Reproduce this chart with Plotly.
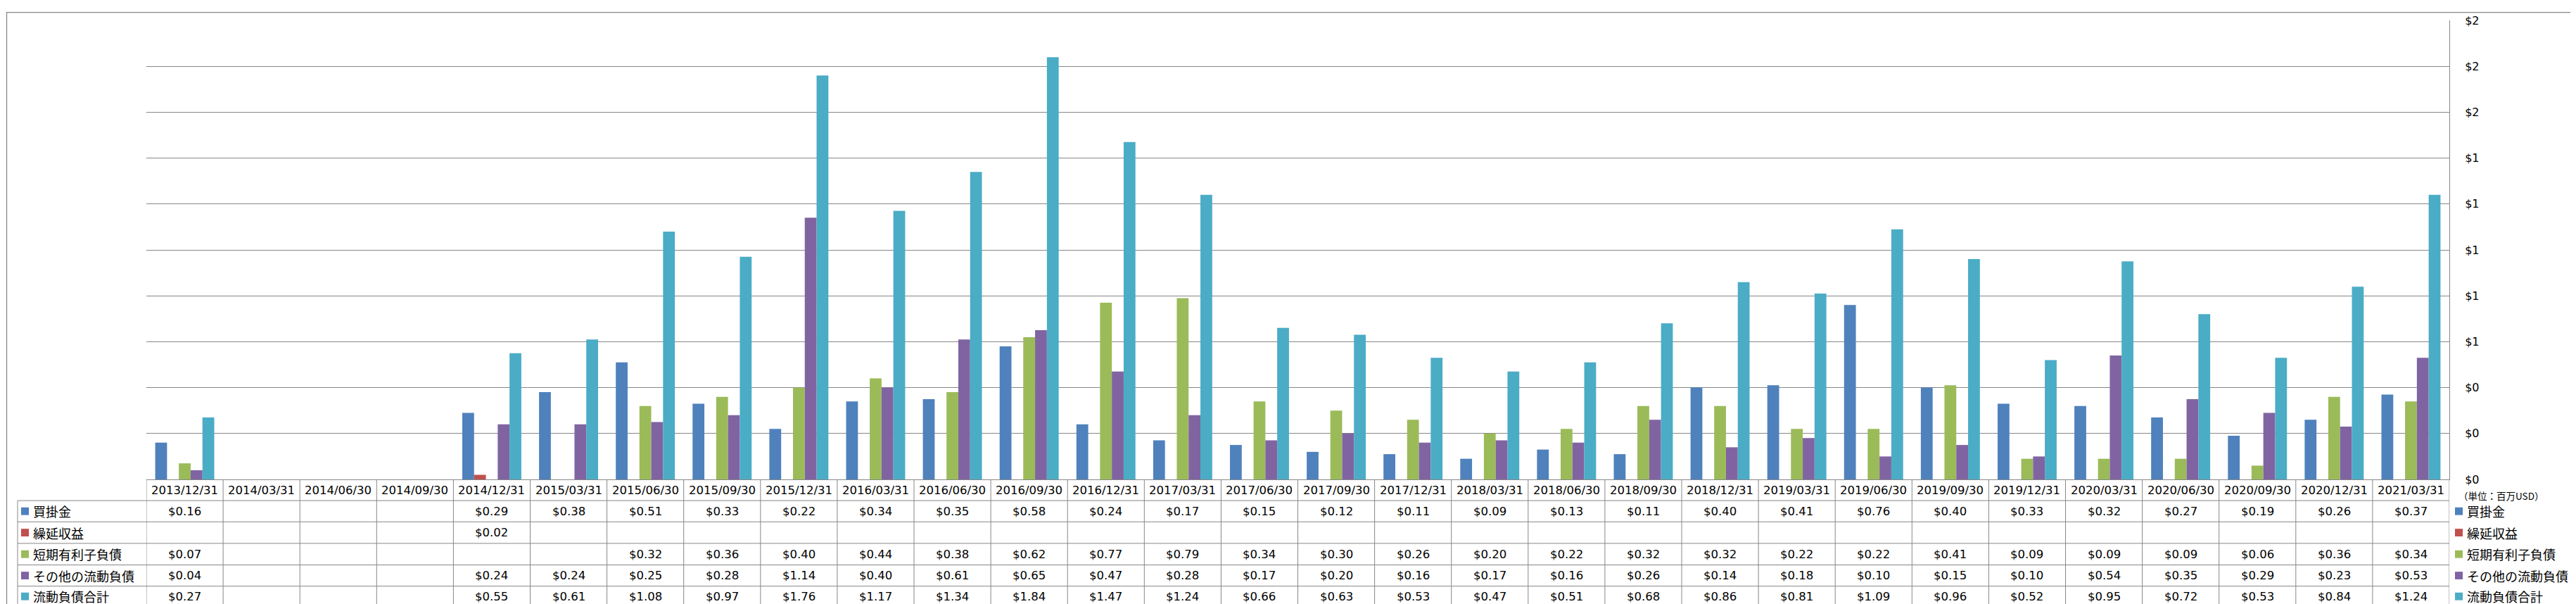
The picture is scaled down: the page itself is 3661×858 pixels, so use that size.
import plotly.graph_objects as go

# ---------------- data ----------------
categories = [
    "2013/12/31", "2014/03/31", "2014/06/30", "2014/09/30", "2014/12/31",
    "2015/03/31", "2015/06/30", "2015/09/30", "2015/12/31", "2016/03/31",
    "2016/06/30", "2016/09/30", "2016/12/31", "2017/03/31", "2017/06/30",
    "2017/09/30", "2017/12/31", "2018/03/31", "2018/06/30", "2018/09/30",
    "2018/12/31", "2019/03/31", "2019/06/30", "2019/09/30", "2019/12/31",
    "2020/03/31", "2020/06/30", "2020/09/30", "2020/12/31", "2021/03/31",
]
accounts_payable = [0.16, None, None, None, 0.29, 0.38, 0.51, 0.33, 0.22, 0.34,
                    0.35, 0.58, 0.24, 0.17, 0.15, 0.12, 0.11, 0.09, 0.13, 0.11,
                    0.40, 0.41, 0.76, 0.40, 0.33, 0.32, 0.27, 0.19, 0.26, 0.37]
deferred_revenue = [None, None, None, None, 0.02, None, None, None, None, None,
                    None, None, None, None, None, None, None, None, None, None,
                    None, None, None, None, None, None, None, None, None, None]
short_term_debt = [0.07, None, None, None, None, None, 0.32, 0.36, 0.40, 0.44,
                   0.38, 0.62, 0.77, 0.79, 0.34, 0.30, 0.26, 0.20, 0.22, 0.32,
                   0.32, 0.22, 0.22, 0.41, 0.09, 0.09, 0.09, 0.06, 0.36, 0.34]
other_current = [0.04, None, None, None, 0.24, 0.24, 0.25, 0.28, 1.14, 0.40,
                 0.61, 0.65, 0.47, 0.28, 0.17, 0.20, 0.16, 0.17, 0.16, 0.26,
                 0.14, 0.18, 0.10, 0.15, 0.10, 0.54, 0.35, 0.29, 0.23, 0.53]
total_current = [0.27, None, None, None, 0.55, 0.61, 1.08, 0.97, 1.76, 1.17,
                 1.34, 1.84, 1.47, 1.24, 0.66, 0.63, 0.53, 0.47, 0.51, 0.68,
                 0.86, 0.81, 1.09, 0.96, 0.52, 0.95, 0.72, 0.53, 0.84, 1.24]

series_names = ["買掛金", "繰延収益", "短期有利子負債", "その他の流動負債", "流動負債合計"]
series_values = [accounts_payable, deferred_revenue, short_term_debt, other_current, total_current]
series_colors = ["#4F81BD", "#C0504D", "#9BBB59", "#8064A2", "#4BACC6"]
unit_label = "（単位：百万USD）"
y_min, y_max, y_step = 0, 2.0, 0.2

# ---------------- layout geometry ----------------
W, H = 3661, 858
L, R, T, B = 200, 3473, 13, 673
GRID = "#878787"
NUM_FONT = dict(family="DejaVu Sans, Verdana, sans-serif", size=16.5, color="#000000")
JP_FONT = dict(family="Noto Sans CJK JP, sans-serif", size=18, color="#000000")


def pxx(x):
    return (x - L) / (R - L)


def pxy(y):
    return (B - y) / (B - T)


fig = go.Figure()
for name, vals, col in zip(series_names, series_values, series_colors):
    fig.add_trace(go.Bar(x=categories, y=vals, name=name, marker_color=col,
                         marker_line_width=0))

n = len(categories)
row_edges = [673, 703.5, 734, 765, 796, 826.5, 856]
table_left = 17
shapes = []
annotations = []

# vertical table lines at category boundaries
for i in range(n + 1):
    shapes.append(dict(type="line", xref="x", yref="paper", x0=i - 0.5, x1=i - 0.5,
                       y0=pxy(row_edges[0]), y1=pxy(row_edges[-1]),
                       line=dict(color=GRID, width=1)))
# legend column left edge
shapes.append(dict(type="line", xref="paper", yref="paper", x0=pxx(table_left), x1=pxx(table_left),
                   y0=pxy(row_edges[1]), y1=pxy(row_edges[-1]), line=dict(color=GRID, width=1)))
# horizontal row lines
for y in row_edges[1:]:
    shapes.append(dict(type="line", xref="paper", yref="paper", x0=pxx(table_left), x1=1,
                       y0=pxy(y), y1=pxy(y), line=dict(color=GRID, width=1)))
# outer frame
shapes.append(dict(type="rect", xref="paper", yref="paper", x0=pxx(1.5), x1=pxx(3656.5),
                   y0=pxy(856.5), y1=pxy(1.5), line=dict(color=GRID, width=1.3)))

# header labels
hdr_y = pxy((row_edges[0] + row_edges[1]) / 2)
for i, c in enumerate(categories):
    annotations.append(dict(x=c, y=hdr_y, xref="x", yref="paper", text=c, showarrow=False,
                            xanchor="center", yanchor="middle", font=NUM_FONT))

# values and legends
for r, (name, vals, col) in enumerate(zip(series_names, series_values, series_colors)):
    yc = (row_edges[r + 1] + row_edges[r + 2]) / 2
    for i, v in enumerate(vals):
        if v is None:
            continue
        annotations.append(dict(x=categories[i], y=pxy(yc), xref="x", yref="paper",
                                text=f"${v:.2f}", showarrow=False, xanchor="center",
                                yanchor="middle", font=NUM_FONT))
    # left legend key
    shapes.append(dict(type="rect", xref="paper", yref="paper", x0=pxx(22), x1=pxx(33),
                       y0=pxy(yc + 5.5), y1=pxy(yc - 5.5), fillcolor=col, line=dict(width=0)))
    annotations.append(dict(x=pxx(37), y=pxy(yc), xref="paper", yref="paper", text=name,
                            showarrow=False, xanchor="left", yanchor="middle", font=JP_FONT))
    # right legend key
    shapes.append(dict(type="rect", xref="paper", yref="paper", x0=pxx(3481), x1=pxx(3492),
                       y0=pxy(yc + 5.5), y1=pxy(yc - 5.5), fillcolor=col, line=dict(width=0)))
    annotations.append(dict(x=pxx(3496), y=pxy(yc), xref="paper", yref="paper", text=name,
                            showarrow=False, xanchor="left", yanchor="middle", font=JP_FONT))

annotations.append(dict(x=pxx(3484), y=pxy(696), xref="paper", yref="paper", text=unit_label,
                        showarrow=False, xanchor="left", yanchor="middle",
                        font=dict(family="Noto Sans CJK JP, sans-serif", size=13.5, color="#000000")))

fig.update_layout(
    width=W, height=H,
    margin=dict(l=L, r=W - R, t=T, b=H - B, pad=0),
    paper_bgcolor="white", plot_bgcolor="white",
    barmode="group", bargap=1.5 / 6.5, bargroupgap=0,
    showlegend=False,
    shapes=shapes, annotations=annotations,
    xaxis=dict(type="category", range=[-0.5, n - 0.5], showticklabels=False, ticks="",
               showgrid=False, showline=True, linecolor=GRID, linewidth=1, zeroline=False),
    yaxis=dict(side="right", range=[y_min, y_max], dtick=y_step, tick0=0, tickformat="$.0f",
               showgrid=True, gridcolor=GRID, gridwidth=1, zeroline=False,
               showline=True, linecolor=GRID, linewidth=1, ticks="",
               ticklabelstandoff=18,
               tickfont=dict(family="DejaVu Sans, Verdana, sans-serif", size=16, color="#000000")),
)

fig.write_html("out.html")
